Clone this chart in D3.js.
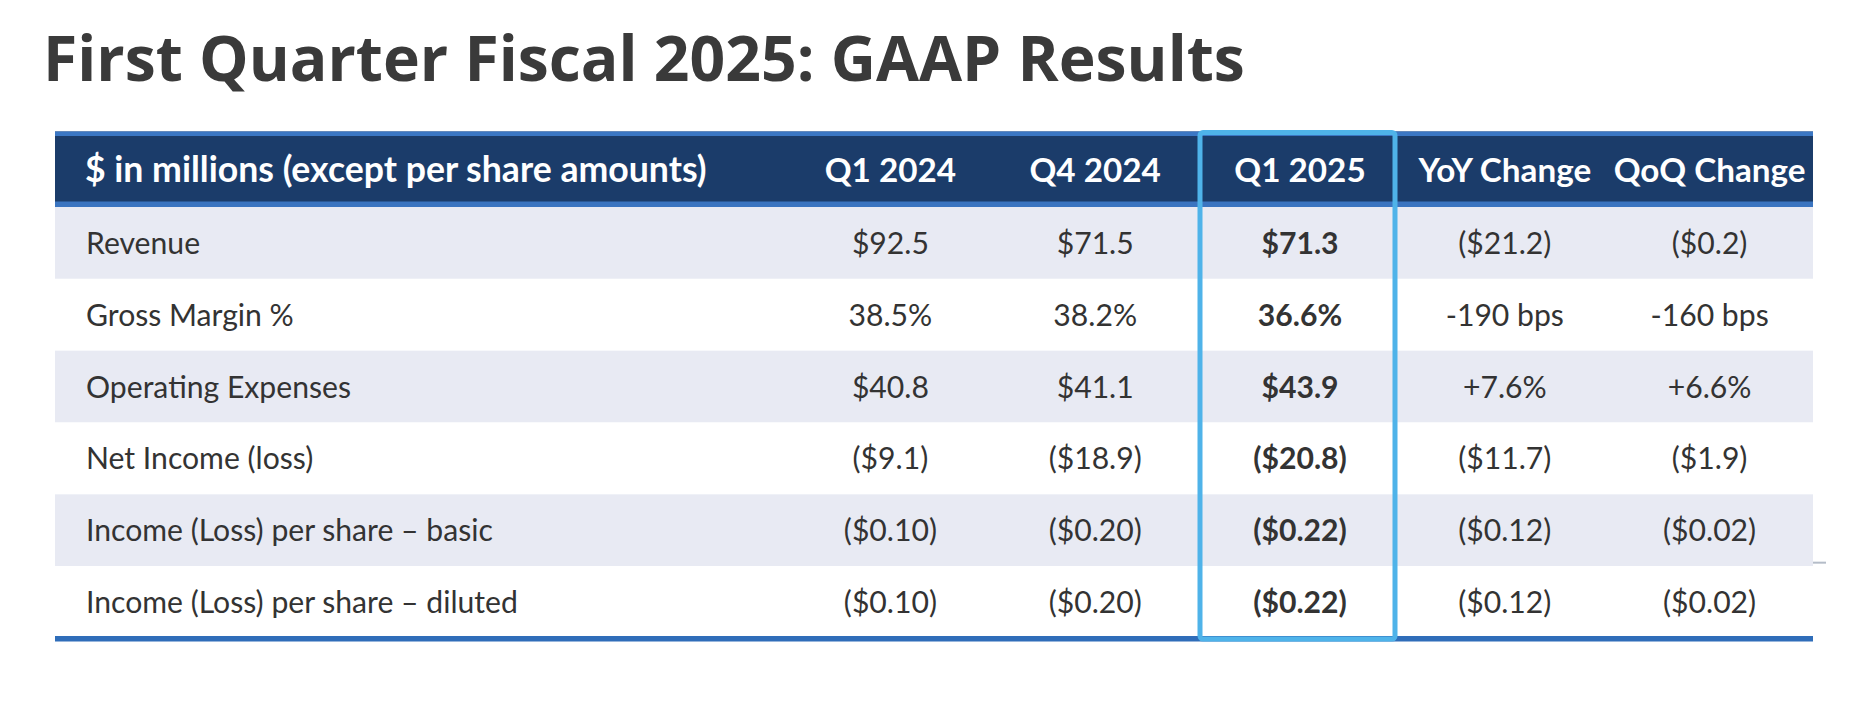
<!DOCTYPE html>
<html>
<head>
<meta charset="utf-8">
<script src="https://cdn.jsdelivr.net/npm/d3@7"></script>
<style>
  html, body { margin: 0; padding: 0; background: #ffffff; }
  svg { display: block; }
</style>
</head>
<body>
<svg id="chart" width="1852" height="706"></svg>
<script>
// ---------- data ----------
const title = "First Quarter Fiscal 2025: GAAP Results";
const headerLabel = "$ in millions (except per share amounts)";
const columns = ["Q1 2024", "Q4 2024", "Q1 2025", "YoY Change", "QoQ Change"];
const highlightColumn = "Q1 2025";
const rowLabels = [
  "Revenue",
  "Gross Margin %",
  "Operating Expenses",
  "Net Income (loss)",
  "Income (Loss) per share \u2013 basic",
  "Income (Loss) per share \u2013 diluted"
];
const q1_2024 = ["$92.5", "38.5%", "$40.8", "($9.1)", "($0.10)", "($0.10)"];
const q4_2024 = ["$71.5", "38.2%", "$41.1", "($18.9)", "($0.20)", "($0.20)"];
const q1_2025 = ["$71.3", "36.6%", "$43.9", "($20.8)", "($0.22)", "($0.22)"];
const yoyChange = ["($21.2)", "-190 bps", "+7.6%", "($11.7)", "($0.12)", "($0.12)"];
const qoqChange = ["($0.2)", "-160 bps", "+6.6%", "($1.9)", "($0.02)", "($0.02)"];
const seriesValues = [q1_2024, q4_2024, q1_2025, yoyChange, qoqChange];

// ---------- layout ----------
const svg = d3.select("#chart");
const TITLE_FONT = "'Open Sans', 'Noto Sans', sans-serif";
const FONT = "Lato, 'Open Sans', sans-serif";
const tableLeft = 55, tableRight = 1813;
const headerTop = 131.5, headerBottom = 207;
const rowsTop = 207, rowsBottom = 638;

const x = d3.scaleBand().domain(columns).range([788, 1812]).padding(0);
const y = d3.scaleBand().domain(rowLabels).range([rowsTop, rowsBottom]).padding(0);

// fit a font size so that a reference string has a given width
function fitSize(str, family, weight, targetWidth) {
  const t = svg.append("text").attr("font-family", family).attr("font-weight", weight)
    .attr("font-size", 100).text(str);
  const w = t.node().getComputedTextLength();
  t.remove();
  return 100 * targetWidth / w;
}
const titleSize = fitSize(title, TITLE_FONT, 700, 1202);
const headLabelSize = fitSize(headerLabel, FONT, 700, 622);
const headColSize = fitSize("QoQ Change", FONT, 700, 192);
const bodySize = fitSize(rowLabels[5], FONT, 400, 432);

// title
svg.append("text")
  .attr("x", 43).attr("y", 80.5)
  .attr("font-family", TITLE_FONT).attr("font-weight", 700)
  .attr("font-size", titleSize).attr("fill", "#3a3a3a")
  .text(title);

// row backgrounds
svg.append("g").selectAll("rect").data(rowLabels).join("rect")
  .attr("x", tableLeft).attr("width", tableRight - tableLeft)
  .attr("y", d => y(d)).attr("height", y.bandwidth())
  .attr("fill", (d, i) => i % 2 === 0 ? "#e8eaf3" : "#ffffff");

// header band
svg.append("rect").attr("x", tableLeft).attr("width", tableRight - tableLeft)
  .attr("y", headerTop).attr("height", headerBottom - headerTop).attr("fill", "#1b3c6a");
svg.append("rect").attr("x", tableLeft).attr("width", tableRight - tableLeft)
  .attr("y", headerTop).attr("height", 4.5).attr("fill", "#3b77c4");
svg.append("rect").attr("x", tableLeft).attr("width", tableRight - tableLeft)
  .attr("y", headerBottom - 5.5).attr("height", 5.5).attr("fill", "#3a74c0");

// bottom rule
svg.append("rect").attr("x", tableLeft).attr("width", tableRight - tableLeft)
  .attr("y", 636).attr("height", 5.5).attr("fill", "#2f6db9");

// small grey tick at right of row 5
svg.append("line")
  .attr("x1", tableRight).attr("x2", tableRight + 13)
  .attr("y1", y(rowLabels[4]) + y.bandwidth() - 3.5).attr("y2", y(rowLabels[4]) + y.bandwidth() - 3.5)
  .attr("stroke", "#b4bcc8").attr("stroke-width", 2);

// header texts
svg.append("text").attr("x", 85).attr("y", 182)
  .attr("font-family", FONT).attr("font-weight", 700).attr("font-size", headLabelSize)
  .attr("fill", "#ffffff").text(headerLabel);
svg.append("g").selectAll("text").data(columns).join("text")
  .attr("x", d => x(d) + x.bandwidth() / 2).attr("y", 182)
  .attr("text-anchor", "middle")
  .attr("font-family", FONT).attr("font-weight", 700).attr("font-size", headColSize)
  .attr("fill", "#ffffff").text(d => d);

// row labels
svg.append("g").selectAll("text").data(rowLabels).join("text")
  .attr("x", 86).attr("y", d => y(d) + y.bandwidth() / 2 + 11)
  .attr("font-family", FONT).attr("font-weight", 400).attr("font-size", bodySize)
  .attr("fill", "#333333").text(d => d);

// values
const cells = [];
columns.forEach((c, ci) => {
  seriesValues[ci].forEach((v, ri) => cells.push({ col: c, row: rowLabels[ri], v }));
});
svg.append("g").selectAll("text").data(cells).join("text")
  .attr("x", d => x(d.col) + x.bandwidth() / 2)
  .attr("y", d => y(d.row) + y.bandwidth() / 2 + 11)
  .attr("text-anchor", "middle")
  .attr("font-family", FONT)
  .attr("font-weight", d => d.col === highlightColumn ? 700 : 400)
  .attr("font-size", bodySize)
  .attr("fill", "#333333").text(d => d.v);

// highlight box around Q1 2025
const hx = x(highlightColumn) + x.bandwidth() / 2;
svg.append("rect")
  .attr("x", hx - 100).attr("width", 195)
  .attr("y", 132.5).attr("height", 639 - 132.5)
  .attr("rx", 3).attr("ry", 3)
  .attr("fill", "none").attr("stroke", "#4fb3e9").attr("stroke-width", 5);
</script>
</body>
</html>
